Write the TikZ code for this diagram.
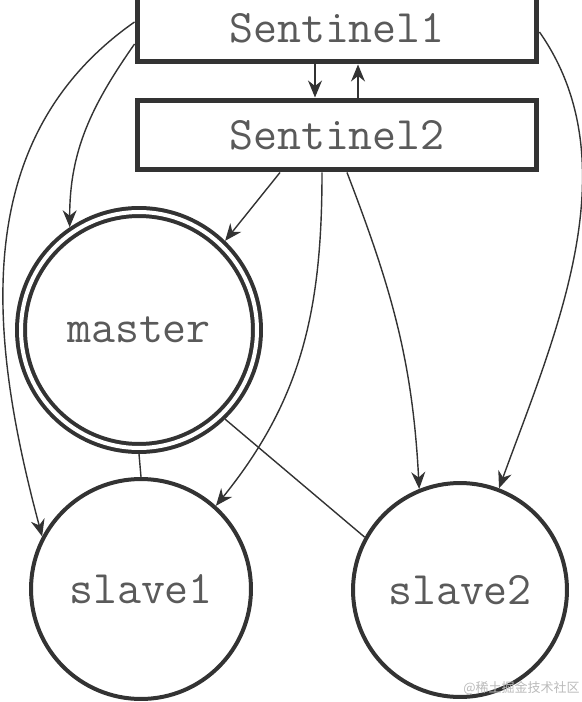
\documentclass[tikz,border=0pt]{standalone}
\usepackage{fontspec}
\newfontfamily\cjkfont{Noto Sans CJK SC}
\usetikzlibrary{arrows.meta, calc}
\definecolor{linegrey}{HTML}{333333}
\definecolor{textgrey}{HTML}{5A5A5A}
\definecolor{markgrey}{HTML}{BBBBBB}
\tikzset{
	box/.style={shape=rectangle,draw=linegrey,line width=0.1cm,fill=white,minimum width=8cm,inner sep=0pt,text=textgrey,font=\ttfamily\fontsize{26.5}{26.5}\selectfont},
	server/.style={shape=circle,draw=linegrey,line width=0.08cm,fill=white,inner sep=0pt,text=textgrey,font=\ttfamily\fontsize{26.5}{26.5}\selectfont},
	master-node/.style={double=white,double distance=0.08cm,outer sep=0.12cm},
	watermark/.style={text=markgrey,inner sep=0pt,font=\cjkfont\fontsize{7.4}{7.4}\selectfont},
	link/.style={line width=0.8pt,draw=linegrey},
}
\tikzstyle{arrow} = [link,-{Stealth[length=0.34cm,width=0.28cm]}]

\begin{document}
\begin{tikzpicture}[x=0.02cm,y=0.02cm]
	\useasboundingbox (0,0) rectangle (581,-702);
	\node[box,minimum height=1.34cm] (S1) at (337,-28.5) {Sentinel1};
	\node[box,minimum height=1.4cm] (S2) at (337,-135) {Sentinel2};
	\node[server,master-node,minimum size=4.72cm] (M) at (139,-330) {master};
	\node[server,minimum size=4.4cm] (SL1) at (141,-589) {slave1};
	\node[server,minimum size=4.28cm] (SL2) at (460,-590) {slave2};
	\node[watermark,anchor=east] (W) at (580,-688) {@稀土掘金技术社区};

	\draw [arrow] ($(S1.south)+(-22,0)$) -- ($(S2.north)+(-22,0)$);
	\draw [arrow] ($(S2.north)+(21,0)$) -- ($(S1.south)+(21,0)$);

	\draw [arrow] ($(S1.west)+(0,6.5)$) to[out=215,in=105] (SL1.152);
	\draw [arrow] ($(S1.west)+(0,-15.5)$) to[out=235,in=90] (M.124);
	\draw [arrow] ($(S1.east)+(0,-3.5)$) to[out=-55,in=70,looseness=0.9] (SL2.69);

	\draw [arrow] ($(S2.south)+(-57,0)$) -- (M.46);
	\draw [arrow] ($(S2.south)+(-15,0)$) to[out=-90,in=51] (SL1.48);
	\draw [arrow] ($(S2.south)+(10,0)$) to[out=-69,in=93] (SL2.112);

	\draw [link] (M.south) -- (SL1.north);
	\draw [link] (M.-46) -- (SL2.151);
\end{tikzpicture}
\end{document}
